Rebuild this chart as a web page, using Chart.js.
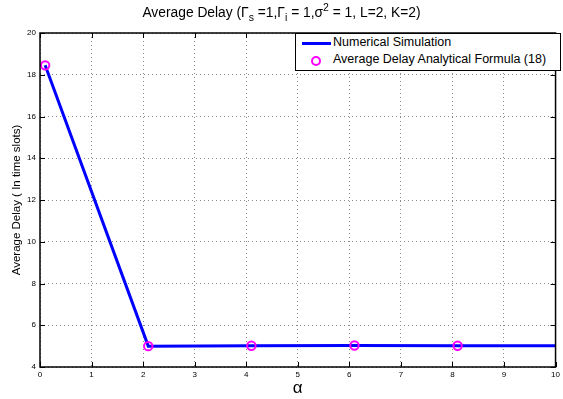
<!DOCTYPE html>
<html><head><meta charset="utf-8">
<script src="https://cdn.jsdelivr.net/npm/chart.js@4/dist/chart.umd.min.js"></script>
<style>
html,body{margin:0;padding:0;background:#fff;}
#wrap{position:relative;width:563px;height:399px;font-family:"Liberation Sans",Arial,sans-serif;}
#title{position:absolute;left:0;top:3px;width:563px;text-align:center;font-size:13.8px;color:#000;line-height:20px;}
#title sub,#title sup{font-size:10.5px;line-height:0;}
#legend{position:absolute;left:295px;top:33px;width:264px;height:36px;background:#fff;border:1px solid #000;font-size:12.5px;color:#000;}
.li{position:absolute;left:0;height:18px;width:264px;}
.li span{position:absolute;left:37px;top:1px;white-space:nowrap;}
</style></head>
<body><div id="wrap">
<canvas id="c" width="563" height="399"></canvas>
<div id="title">Average Delay (Γ<sub>s</sub> =1,Γ<sub>i</sub> = 1,σ<sup>2</sup> = 1, L=2, K=2)</div>
<div id="legend">
 <div class="li" style="top:0px"><div style="position:absolute;left:6px;top:8px;width:29px;height:3px;background:#0000ff"></div><span>Numerical Simulation</span></div>
 <div class="li" style="top:17px"><div style="position:absolute;left:15px;top:5px;width:6px;height:6px;border:2px solid #ff00ff;border-radius:50%"></div><span>Average Delay Analytical Formula (18)</span></div>
</div>
</div>
<script>
const alphaValues = [0.1, 2.1, 4.1, 6.1, 8.1, 10.1];
const simulationDelay = [18.45, 5.0, 5.02, 5.03, 5.02, 5.02];
const formulaAlpha = [0.1, 2.1, 4.1, 6.1, 8.1];
const formulaDelay = [18.45, 5.0, 5.02, 5.03, 5.02];
const xTicks = [0,1,2,3,4,5,6,7,8,9,10];
const yTicks = [4,6,8,10,12,14,16,18,20];

const L=40, R=559, T=33, B=367;

const boxPlugin = {
  id:'box',
  afterDraw(chart){
    const ctx=chart.ctx, a=chart.chartArea, xs=chart.scales.x, ys=chart.scales.y;
    ctx.save();
    ctx.strokeStyle='#000'; ctx.lineWidth=1;
    ctx.beginPath();
    xTicks.forEach(v=>{const p=Math.round(xs.getPixelForValue(v))+0.5;
      ctx.moveTo(p,a.bottom);ctx.lineTo(p,a.bottom-5);ctx.moveTo(p,a.top);ctx.lineTo(p,a.top+5);});
    yTicks.forEach(v=>{const p=Math.round(ys.getPixelForValue(v))+0.5;
      ctx.moveTo(a.left,p);ctx.lineTo(a.left+5,p);ctx.moveTo(a.right,p);ctx.lineTo(a.right-5,p);});
    ctx.stroke();
    ctx.lineWidth=1.5;
    ctx.strokeRect(a.left,a.top,a.right-a.left,a.bottom-a.top);
    ctx.restore();
  }
};

new Chart(document.getElementById('c'),{
  type:'scatter',
  data:{datasets:[
    {label:'Numerical Simulation',data:alphaValues.map((x,i)=>({x,y:simulationDelay[i]})),
     showLine:true,borderColor:'#0000ff',borderWidth:3,pointRadius:0,fill:false,order:2},
    {label:'Average Delay Analytical Formula (18)',data:formulaAlpha.map((x,i)=>({x,y:formulaDelay[i]})),
     showLine:false,pointRadius:4.2,pointBorderWidth:2,pointBorderColor:'#ff00ff',pointBackgroundColor:'rgba(0,0,0,0)',order:1}
  ]},
  options:{
    responsive:false,animation:false,
    layout:{padding:{top:T,right:563-R,left:0,bottom:0}},
    plugins:{legend:{display:false},tooltip:{enabled:false},title:{display:false}},
    scales:{
      x:{type:'linear',min:0,max:10,
        afterBuildTicks(s){s.ticks=xTicks.map(v=>({value:v}));},
        afterFit(s){s.height=399-B;},
        grid:{color:'#8a8a8a',lineWidth:1,drawTicks:false},
        border:{display:false,dash:[1,3]},
        ticks:{font:{family:'Liberation Sans',size:8},color:'#000',padding:3},
        title:{display:true,text:'α',font:{family:'Liberation Sans',size:17},color:'#000',padding:{top:0,bottom:0}}
      },
      y:{type:'linear',min:4,max:20,
        afterBuildTicks(s){s.ticks=yTicks.map(v=>({value:v}));},
        afterFit(s){s.width=L;},
        grid:{color:'#8a8a8a',lineWidth:1,drawTicks:false},
        border:{display:false,dash:[1,3]},
        ticks:{font:{family:'Liberation Sans',size:8},color:'#000',padding:4},
        title:{display:true,text:'Average Delay ( In time slots)',font:{family:'Liberation Sans',size:11.5},color:'#000',padding:{top:10,bottom:0}}
      }
    }
  },
  plugins:[boxPlugin]
});
</script>
</body></html>
